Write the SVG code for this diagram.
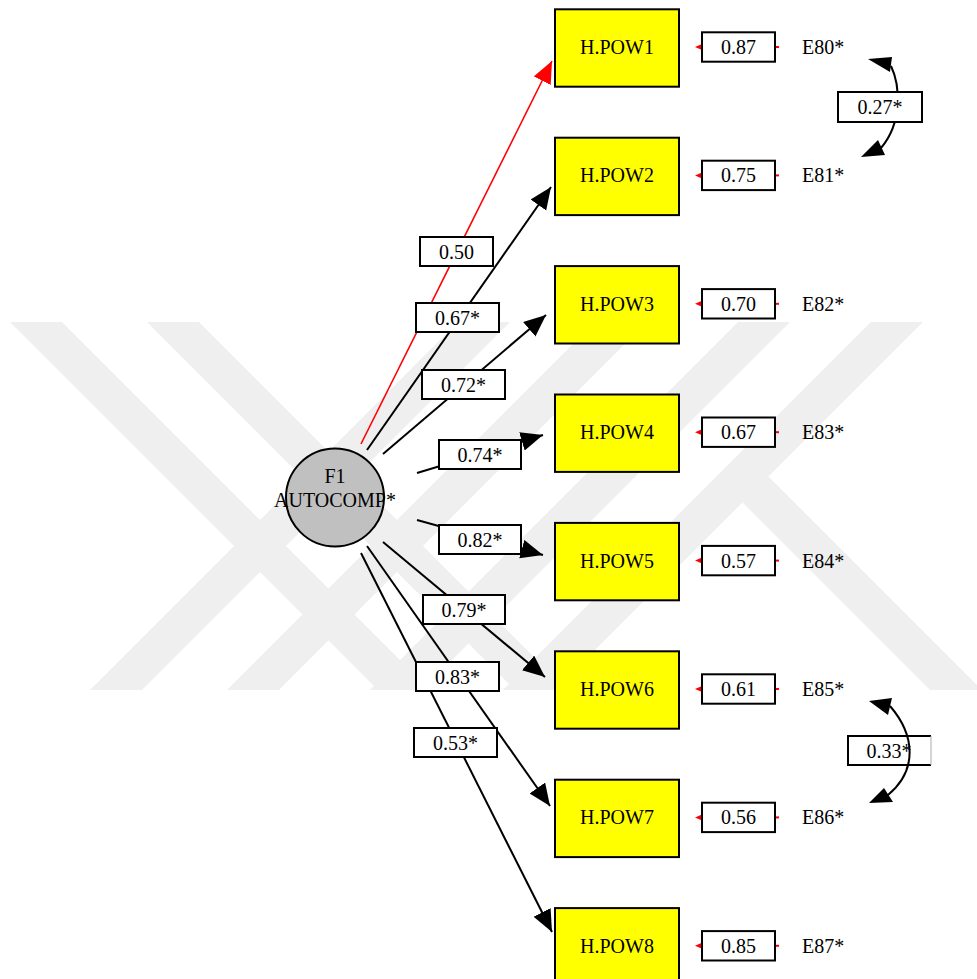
<svg xmlns="http://www.w3.org/2000/svg" width="977" height="979" viewBox="0 0 977 979">
<style>
.wm{fill:#efefef}
.box{fill:#ffff00;stroke:#000;stroke-width:2}
.lbl{fill:#fff;stroke:#000;stroke-width:2}
.t{font-family:"Liberation Serif","Times New Roman",serif;font-size:20px;fill:#000;text-anchor:middle}
.tl{font-family:"Liberation Serif","Times New Roman",serif;font-size:20px;fill:#000}
.blk{stroke:#000;stroke-width:2;fill:none;marker-end:url(#ah)}
.red{stroke:#f00;stroke-width:1.6;fill:none;marker-end:url(#ahr)}
.arc{stroke:#000;stroke-width:2;fill:none}
.rm{fill:#f00}
.rl{stroke:#f00;stroke-width:2}
</style>
<defs>
<marker id="ah" markerUnits="userSpaceOnUse" markerWidth="24" markerHeight="20" viewBox="0 0 24 20" refX="22" refY="9.5" orient="auto"><path d="M0,0 L22,9.5 L0,19 z" fill="#000"/></marker>
<marker id="ahr" markerUnits="userSpaceOnUse" markerWidth="24" markerHeight="20" viewBox="0 0 24 20" refX="22" refY="9.5" orient="auto"><path d="M0,0 L22,9.5 L0,19 z" fill="#f00"/></marker>
</defs>
<rect width="977" height="979" fill="#fff"/>
<g id="watermark">
<polygon class="wm" points="10,322 62,322 430,690 378,690"/>
<polygon class="wm" points="147,322 199,322 567,690 515,690"/>
<polygon class="wm" points="458,322 510,322 142,690 90,690"/>
<polygon class="wm" points="595,322 647,322 279,690 227,690"/>
<polygon class="wm" points="738,322 790,322 422,690 370,690"/>
<polygon class="wm" points="871,322 923,322 555,690 503,690"/>
<polygon class="wm" points="768.5,476.5 982,690 930,690 742.5,502.5"/>
</g>
<g id="connectors">
<line class="red" x1="361" y1="444" x2="552" y2="61"/>
<line class="blk" x1="367" y1="450" x2="551" y2="187"/>
<line class="blk" x1="383" y1="454" x2="546" y2="315"/>
<line class="blk" x1="417" y1="473" x2="543" y2="435"/>
<line class="blk" x1="417" y1="520" x2="543" y2="555"/>
<line class="blk" x1="383" y1="542" x2="545" y2="677"/>
<line class="blk" x1="367" y1="546" x2="550" y2="806"/>
<line class="blk" x1="361" y1="553" x2="552" y2="932"/>
</g>
<g id="F1">
<circle cx="335" cy="497.5" r="49" fill="#c0c0c0" stroke="#000" stroke-width="2"/>
<text class="t" x="335" y="483">F1</text>
<text class="t" x="335" y="507">AUTOCOMP*</text>
</g>
<g id="path-labels">
<rect class="lbl" x="420" y="237" width="73" height="29"/><text class="t" x="456.5" y="259">0.50</text>
<rect class="lbl" x="416" y="303" width="83" height="29"/><text class="t" x="457.5" y="325">0.67*</text>
<rect class="lbl" x="422" y="370" width="83" height="29"/><text class="t" x="463.5" y="392">0.72*</text>
<rect class="lbl" x="439" y="440" width="82" height="29"/><text class="t" x="480" y="462">0.74*</text>
<rect class="lbl" x="439" y="525" width="82" height="29"/><text class="t" x="480" y="547">0.82*</text>
<rect class="lbl" x="423" y="595" width="82" height="29"/><text class="t" x="464" y="617">0.79*</text>
<rect class="lbl" x="416" y="662" width="83" height="29"/><text class="t" x="457.5" y="684">0.83*</text>
<rect class="lbl" x="414" y="728" width="83" height="29"/><text class="t" x="455.5" y="750">0.53*</text>
</g>
<g id="HPOW1"><rect class="box" x="555" y="9.3" width="124" height="77.4"/><text class="t" x="617" y="54">H.POW1</text></g>
<g id="HPOW2"><rect class="box" x="555" y="137.7" width="124" height="77.4"/><text class="t" x="617" y="182.4">H.POW2</text></g>
<g id="HPOW3"><rect class="box" x="555" y="266.1" width="124" height="77.4"/><text class="t" x="617" y="310.8">H.POW3</text></g>
<g id="HPOW4"><rect class="box" x="555" y="394.5" width="124" height="77.4"/><text class="t" x="617" y="439.2">H.POW4</text></g>
<g id="HPOW5"><rect class="box" x="555" y="522.9" width="124" height="77.4"/><text class="t" x="617" y="567.6">H.POW5</text></g>
<g id="HPOW6"><rect class="box" x="555" y="651.3" width="124" height="77.4"/><text class="t" x="617" y="696">H.POW6</text></g>
<g id="HPOW7"><rect class="box" x="555" y="779.7" width="124" height="77.4"/><text class="t" x="617" y="824.4">H.POW7</text></g>
<g id="HPOW8"><rect class="box" x="555" y="908.1" width="124" height="77.4"/><text class="t" x="617" y="952.8">H.POW8</text></g>
<g id="E80"><polygon class="rm" points="695,47 702,44 702,50"/><line class="rl" x1="775" y1="47" x2="779" y2="47"/><rect class="lbl" x="702" y="32.3" width="73" height="29.4"/><text class="t" x="738.5" y="54">0.87</text><text class="tl" x="802" y="54">E80*</text></g>
<g id="E81"><polygon class="rm" points="695,175.4 702,172.4 702,178.4"/><line class="rl" x1="775" y1="175.4" x2="779" y2="175.4"/><rect class="lbl" x="702" y="160.7" width="73" height="29.4"/><text class="t" x="738.5" y="182.4">0.75</text><text class="tl" x="802" y="182.4">E81*</text></g>
<g id="E82"><polygon class="rm" points="695,303.8 702,300.8 702,306.8"/><line class="rl" x1="775" y1="303.8" x2="779" y2="303.8"/><rect class="lbl" x="702" y="289.1" width="73" height="29.4"/><text class="t" x="738.5" y="310.8">0.70</text><text class="tl" x="802" y="310.8">E82*</text></g>
<g id="E83"><polygon class="rm" points="695,432.2 702,429.2 702,435.2"/><line class="rl" x1="775" y1="432.2" x2="779" y2="432.2"/><rect class="lbl" x="702" y="417.5" width="73" height="29.4"/><text class="t" x="738.5" y="439.2">0.67</text><text class="tl" x="802" y="439.2">E83*</text></g>
<g id="E84"><polygon class="rm" points="695,560.6 702,557.6 702,563.6"/><line class="rl" x1="775" y1="560.6" x2="779" y2="560.6"/><rect class="lbl" x="702" y="545.9" width="73" height="29.4"/><text class="t" x="738.5" y="567.6">0.57</text><text class="tl" x="802" y="567.6">E84*</text></g>
<g id="E85"><polygon class="rm" points="695,689 702,686 702,692"/><line class="rl" x1="775" y1="689" x2="779" y2="689"/><rect class="lbl" x="702" y="674.3" width="73" height="29.4"/><text class="t" x="738.5" y="696">0.61</text><text class="tl" x="802" y="696">E85*</text></g>
<g id="E86"><polygon class="rm" points="695,817.4 702,814.4 702,820.4"/><line class="rl" x1="775" y1="817.4" x2="779" y2="817.4"/><rect class="lbl" x="702" y="802.7" width="73" height="29.4"/><text class="t" x="738.5" y="824.4">0.56</text><text class="tl" x="802" y="824.4">E86*</text></g>
<g id="E87"><polygon class="rm" points="695,945.8 702,942.8 702,948.8"/><line class="rl" x1="775" y1="945.8" x2="779" y2="945.8"/><rect class="lbl" x="702" y="931.1" width="73" height="29.4"/><text class="t" x="738.5" y="952.8">0.85</text><text class="tl" x="802" y="952.8">E87*</text></g>
<g id="cov-E80-E81">
<path class="arc" d="M891,66 C900,85 903,122 881,148"/>
<polygon points="868,59 892,57 890,72" fill="#000"/>
<polygon points="861,157 885,155 878,140" fill="#000"/>
<rect class="lbl" x="838" y="92" width="84" height="30"/>
<text class="t" x="880" y="114">0.27*</text>
</g>
<g id="cov-E85-E86">
<path d="M931,736 H848 V765 H931" fill="#fff" stroke="#000" stroke-width="2"/>
<line x1="931" y1="736" x2="931" y2="765" stroke="#aaa" stroke-width="1"/>
<text class="t" x="889" y="758">0.33*</text>
<path class="arc" d="M890,706 C915,735 918,770 888,795"/>
<polygon points="869,701 892,698 888,715" fill="#000"/>
<polygon points="869,803 893,802 884,788" fill="#000"/>
</g>
</svg>
